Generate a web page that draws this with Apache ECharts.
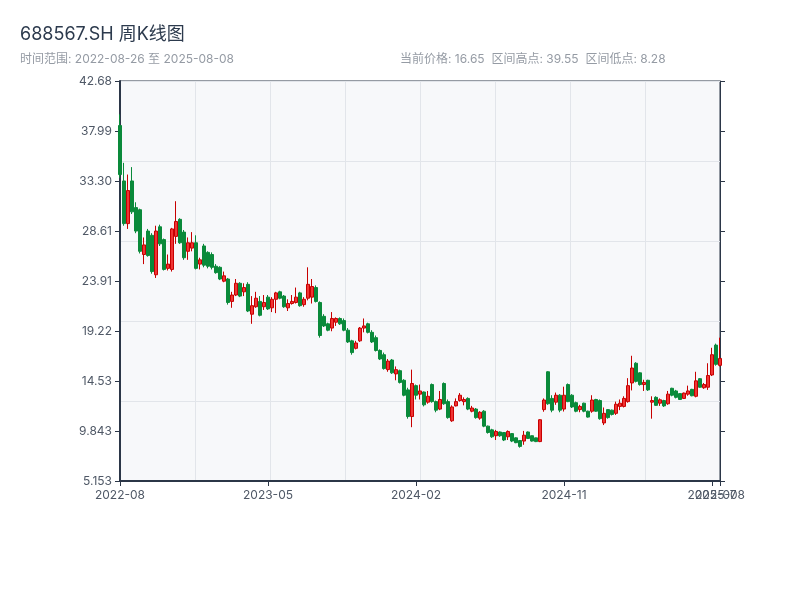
<!DOCTYPE html>
<html>
<head>
<meta charset="utf-8">
<script src="https://cdn.jsdelivr.net/npm/echarts@6/dist/echarts.min.js"></script>
<style>html,body{margin:0;padding:0;background:#fff}#c{width:800px;height:600px}</style>
</head>
<body>
<div id="c"></div>
<script>
const dates = [
'2022-08-26','2022-09-02','2022-09-09','2022-09-16','2022-09-23','2022-09-30','2022-10-14','2022-10-21','2022-10-28','2022-11-04',
'2022-11-11','2022-11-18','2022-11-25','2022-12-02','2022-12-09','2022-12-16','2022-12-23','2022-12-30','2023-01-06','2023-01-13',
'2023-01-20','2023-02-03','2023-02-10','2023-02-17','2023-02-24','2023-03-03','2023-03-10','2023-03-17','2023-03-24','2023-03-31',
'2023-04-07','2023-04-14','2023-04-21','2023-04-28','2023-05-05','2023-05-12','2023-05-19','2023-05-26','2023-06-02','2023-06-09',
'2023-06-16','2023-06-23','2023-06-30','2023-07-07','2023-07-14','2023-07-21','2023-07-28','2023-08-04','2023-08-11','2023-08-18',
'2023-08-25','2023-09-01','2023-09-08','2023-09-15','2023-09-22','2023-09-28','2023-10-13','2023-10-20','2023-10-27','2023-11-03',
'2023-11-10','2023-11-17','2023-11-24','2023-12-01','2023-12-08','2023-12-15','2023-12-22','2023-12-29','2024-01-05','2024-01-12',
'2024-01-19','2024-01-26','2024-02-02','2024-02-08','2024-02-23','2024-03-01','2024-03-08','2024-03-15','2024-03-22','2024-03-29',
'2024-04-03','2024-04-12','2024-04-19','2024-04-26','2024-04-30','2024-05-10','2024-05-17','2024-05-24','2024-05-31','2024-06-07',
'2024-06-14','2024-06-21','2024-06-28','2024-07-05','2024-07-12','2024-07-19','2024-07-26','2024-08-02','2024-08-09','2024-08-16',
'2024-08-23','2024-08-30','2024-09-06','2024-09-13','2024-09-20','2024-09-27','2024-09-30','2024-10-11','2024-10-18','2024-10-25',
'2024-11-01','2024-11-08','2024-11-15','2024-11-22','2024-11-29','2024-12-06','2024-12-13','2024-12-20','2024-12-27','2025-01-03',
'2025-01-10','2025-01-17','2025-01-24','2025-01-27','2025-02-07','2025-02-14','2025-02-21','2025-02-28','2025-03-07','2025-03-14',
'2025-03-21','2025-03-28','2025-04-03','2025-04-11','2025-04-18','2025-04-25','2025-04-30','2025-05-09','2025-05-16','2025-05-23',
'2025-05-30','2025-06-06','2025-06-13','2025-06-20','2025-06-27','2025-07-04','2025-07-11','2025-07-18','2025-07-25','2025-08-01',
'2025-08-08'
];
const openP = [
38.5,33.3,29.3,33.3,30.8,30.6,26.4,28.6,28.2,24.5,
29.0,27.8,25.1,25.0,28.1,29.7,28.5,26.7,27.0,27.5,
25.5,27.2,26.6,26.4,25.3,25.2,23.9,24.1,22.0,22.6,
23.7,22.9,23.6,20.8,21.5,22.0,21.5,22.4,21.4,22.2,
22.9,22.5,21.4,21.8,21.9,22.8,21.7,22.3,22.4,23.3,
21.9,20.6,19.9,19.5,20.05,20.4,20.2,19.3,18.3,17.6,
18.3,19.5,19.9,19.1,18.6,17.4,17.0,15.6,16.5,15.2,
15.5,14.6,13.7,11.2,14.1,13.3,13.5,12.55,14.2,12.6,
11.9,14.3,12.6,10.8,12.2,12.7,12.6,12.9,11.7,11.9,
11.05,11.7,10.3,9.95,9.4,9.75,9.7,9.3,9.6,9.2,
8.95,8.9,9.75,9.4,9.2,8.85,11.85,15.4,12.9,12.55,
13.2,11.9,14.2,13.2,12.5,11.85,12.45,11.7,11.7,12.8,
12.7,10.6,11.85,11.8,11.5,12.15,12.15,12.6,14.35,16.2,
15.3,14.2,14.6,12.55,13.0,12.45,12.7,12.4,13.85,13.6,
13.35,12.9,13.3,13.75,13.1,14.75,13.9,13.95,15.1,17.9,
16.0
];
const closeP = [
33.9,29.3,32.4,30.4,28.6,26.7,27.3,26.3,24.8,28.6,
27.4,25.0,25.5,28.8,29.5,27.5,26.1,27.5,27.5,25.1,
25.9,25.4,25.3,25.2,24.7,24.1,24.4,21.9,22.6,23.7,
22.5,23.3,21.1,21.6,22.3,20.7,21.9,21.3,22.2,22.8,
22.3,21.5,21.8,22.0,22.4,21.6,22.2,23.6,23.4,22.0,
18.8,19.7,19.3,20.4,20.4,19.9,19.3,18.2,17.2,18.1,
19.5,19.7,19.1,18.2,17.4,16.6,15.7,16.4,15.3,15.6,
14.4,13.2,11.2,14.3,13.2,13.6,12.3,13.1,12.6,11.8,
12.8,12.4,11.1,12.1,12.6,13.2,12.8,11.9,12.0,11.1,
11.6,10.3,9.7,9.3,9.8,9.4,9.0,9.8,8.9,8.75,
8.4,9.45,9.15,8.9,8.85,10.9,12.75,12.4,11.8,13.2,
11.8,13.2,12.6,12.1,11.7,12.15,11.7,11.15,12.75,11.7,
11.0,11.5,11.1,11.4,12.35,12.45,12.9,14.1,15.75,14.5,
14.2,14.4,13.7,12.7,12.25,12.77,12.2,13.3,13.2,13.0,
12.8,13.4,13.6,13.15,14.55,13.95,14.2,15.05,17.0,16.1,
16.65
];
const lowP = [
33.6,29.1,28.8,30.2,28.4,26.5,25.5,26.2,24.6,24.2,
27.2,24.9,24.9,24.8,27.4,27.4,25.9,25.9,26.7,25.0,
25.0,25.2,25.1,25.0,24.6,24.0,23.8,21.7,21.4,22.5,
22.4,22.5,21.0,19.9,21.4,20.6,21.2,21.2,21.0,20.9,
22.2,21.4,21.1,21.7,21.8,21.5,21.5,22.1,21.8,21.9,
18.6,19.6,19.2,19.2,19.7,19.8,19.2,18.1,17.0,17.5,
18.2,19.1,19.0,18.1,17.3,16.5,15.6,15.4,15.2,14.6,
14.3,13.1,11.0,10.2,12.8,12.8,12.15,12.4,12.5,11.6,
11.8,12.3,11.0,10.7,12.15,12.6,12.25,11.8,11.6,11.0,
10.9,10.2,9.6,9.2,9.0,9.3,8.9,9.0,8.8,8.7,
8.28,8.55,9.1,8.85,8.8,8.8,11.65,12.3,11.6,12.3,
11.6,11.67,12.55,12.0,11.6,11.6,11.6,11.1,11.55,11.65,
10.9,10.4,11.0,11.3,11.35,11.8,12.05,12.5,13.65,14.4,
14.1,13.6,13.6,11.0,12.2,12.2,12.1,12.3,13.1,12.9,
12.77,12.85,13.15,13.1,13.0,13.9,13.8,13.7,15.0,15.97,
15.9
];
const highP = [
39.55,35.0,33.9,34.6,31.3,30.7,28.0,28.8,28.4,29.1,
29.2,27.9,26.4,28.9,31.4,29.8,28.7,28.0,28.5,28.2,
26.1,27.4,26.7,26.6,25.5,25.3,24.8,24.2,22.9,24.1,
23.8,23.7,23.8,22.5,22.9,22.5,22.6,22.6,22.4,22.9,
23.0,22.6,22.2,22.6,23.3,22.9,22.4,25.2,24.1,23.5,
22.0,20.8,20.0,21.0,20.5,20.5,20.4,19.5,18.4,18.3,
19.6,20.4,20.0,19.3,18.8,17.5,17.2,16.6,16.6,15.9,
15.6,14.7,13.9,15.6,14.2,14.2,13.55,13.6,14.3,12.7,
13.6,14.4,12.8,12.25,12.9,13.4,13.0,13.0,12.2,12.0,
11.7,11.8,10.35,10.05,9.95,9.8,9.75,9.9,9.65,9.25,
9.0,9.85,9.8,9.42,9.22,10.95,12.9,15.45,13.2,13.45,
13.3,14.0,14.3,13.3,12.6,12.3,12.5,11.75,13.2,12.86,
12.8,12.05,11.9,11.85,12.6,12.8,13.1,14.8,16.9,16.3,
15.35,14.65,14.65,13.1,13.1,12.9,12.77,13.6,13.9,13.7,
13.4,13.45,14.1,13.8,15.4,14.8,14.35,16.2,17.65,18.04,
18.6
];
const yMin = 5.153;
const yMax = 42.677;
const titleText = '688567.SH 周K线图';
const rangeText = '时间范围: 2022-08-26 至 2025-08-08';
const statText = '当前价格: 16.65  区间高点: 39.55  区间低点: 8.28';

const kData = dates.map((d, i) => [openP[i], closeP[i], lowP[i], highP[i]]);
const lastIdx = dates.length - 1;
const stepIdx = (i) => i % 37 === 0;
const endIdx = (i) => i === lastIdx;
const axisColor = '#2b3647';
const labelColor = '#4f5866';
const font = "Inter, 'Noto Sans CJK SC', sans-serif";
const yStep = (yMax - yMin) / 8;
const dateFmt = (v) => v.slice(0, 7);

const chart = echarts.init(document.getElementById('c'), null, {renderer: 'canvas'});
chart.setOption({
  animation: false,
  backgroundColor: '#ffffff',
  textStyle: {fontFamily: font},
  title: [
    {text: titleText, left: 20, top: 26, padding: 0, textStyle: {fontSize: 18, fontWeight: 'normal', color: '#2c3a4d', fontFamily: font}},
    {text: rangeText, left: 20, top: 53, padding: 0, textStyle: {fontSize: 12, fontWeight: 'normal', color: '#959ba4', fontFamily: font}},
    {text: statText, left: 400, top: 53, padding: 0, textStyle: {fontSize: 12, fontWeight: 'normal', color: '#959ba4', fontFamily: font}}
  ],
  grid: {left: 120, right: 80, top: 81, bottom: 119, show: true, backgroundColor: '#f7f8fa', borderColor: axisColor, borderWidth: 1},
  xAxis: [
    {
      type: 'category', data: dates, boundaryGap: false,
      axisLine: {lineStyle: {color: axisColor, width: 2}},
      axisTick: {show: true, interval: stepIdx, length: 5, lineStyle: {color: axisColor}},
      axisLabel: {interval: stepIdx, hideOverlap: false, formatter: dateFmt, color: labelColor, fontSize: 12, margin: 8, fontFamily: font},
      splitLine: {show: false}
    },
    {
      type: 'value', min: 0, max: 8, interval: 1, position: 'top',
      axisLine: {show: false}, axisTick: {show: false}, axisLabel: {show: false},
      splitLine: {show: true, lineStyle: {color: '#e2e5ea', width: 1}}
    },
    {
      type: 'category', data: dates, boundaryGap: false, position: 'bottom',
      axisLine: {show: false},
      axisTick: {show: true, interval: endIdx, length: 5, lineStyle: {color: axisColor}},
      axisLabel: {interval: endIdx, hideOverlap: false, formatter: dateFmt, color: labelColor, fontSize: 12, margin: 8, fontFamily: font},
      splitLine: {show: false}
    }
  ],
  yAxis: [
    {
      type: 'value', min: yMin, max: yMax, interval: yStep, position: 'left',
      axisLine: {show: true, lineStyle: {color: axisColor, width: 2}},
      axisTick: {show: true, length: 5, lineStyle: {color: axisColor}},
      axisLabel: {formatter: (v) => (Number(v) - 1e-9).toPrecision(4), color: labelColor, fontSize: 12, margin: 8, fontFamily: font},
      splitLine: {show: false}
    },
    {
      type: 'value', min: yMin, max: yMax, interval: yStep, position: 'right',
      axisLine: {show: true, lineStyle: {color: axisColor, width: 1}},
      axisTick: {show: true, length: 5, lineStyle: {color: axisColor}},
      axisLabel: {show: false},
      splitLine: {show: false}
    },
    {
      type: 'value', min: 0, max: 5, interval: 1, position: 'right',
      axisLine: {show: false}, axisTick: {show: false}, axisLabel: {show: false},
      splitLine: {show: true, lineStyle: {color: '#e2e5ea', width: 1}}
    }
  ],
  series: [
    {
      type: 'candlestick', xAxisIndex: 0, yAxisIndex: 0, data: kData, barWidth: 3,
      itemStyle: {color: '#ef3434', color0: '#0a8a3a', borderColor: '#c80000', borderColor0: '#0a8a3a', borderWidth: 1}
    }
  ]
});
</script>
</body>
</html>
